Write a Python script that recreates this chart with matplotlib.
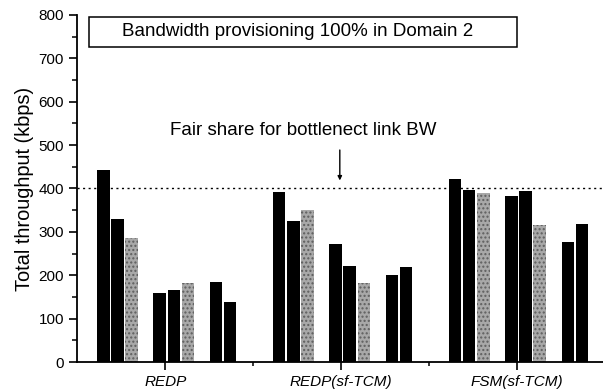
import matplotlib
matplotlib.use("Agg")
from matplotlib import pyplot as plt
from matplotlib.patches import Rectangle
from matplotlib.ticker import MultipleLocator

plt.rcParams['font.family'] = ['Liberation Sans', 'DejaVu Sans']

groups = ['REDP', 'REDP(sf-TCM)', 'FSM(sf-TCM)']
redp = [443, 329, 286, 160, 167, 182, 185, 139]
redp_sftcm = [392, 324, 350, 273, 222, 182, 200, 219]
fsm_sftcm = [421, 396, 390, 383, 395, 316, 276, 319]
# bar slot inside a group: (subgroup, index), gray = third bar of a subgroup
slots = [(0, 0), (0, 1), (0, 2), (1, 0), (1, 1), (1, 2), (2, 0), (2, 1)]
fair_share = 400

group_step = 12.5
sub_step = 4
width = 0.88

fig = plt.figure(figsize=(6.03, 3.91), dpi=100)
ax = fig.add_axes([0.128, 0.074, 0.872, 0.888])

for g, vals in enumerate([redp, redp_sftcm, fsm_sftcm]):
    for (s, k), v in zip(slots, vals):
        x = g * group_step + s * sub_step + k + 0.5
        if k == 2:
            ax.bar(x, v, width=width, color='#a8a8a8', edgecolor='#5e5e5e',
                   hatch='....', linewidth=0)
        else:
            ax.bar(x, v, width=width, color='black', linewidth=0)

ax.axhline(fair_share, color='black', linestyle=(0, (1.5, 2.5)), linewidth=1)

ax.set_xlim(-1.36, 36)
ax.set_ylim(0, 800)
ax.spines['top'].set_visible(False)
ax.spines['right'].set_visible(False)
ax.spines['left'].set_linewidth(1.3)
ax.spines['bottom'].set_linewidth(1.3)

centers = [g * group_step + 4.9 for g in range(len(groups))]
ax.set_xticks(centers)
ax.set_xticklabels(groups, fontstyle='italic', fontsize=11)
ax.set_xticks([(centers[0] + centers[1]) / 2, (centers[1] + centers[2]) / 2], minor=True)
ax.yaxis.set_major_locator(MultipleLocator(100))
ax.yaxis.set_minor_locator(MultipleLocator(50))
ax.tick_params(axis='y', labelsize=11, length=6, width=1.2)
ax.tick_params(axis='y', which='minor', length=3.5, width=1.1)
ax.tick_params(axis='x', length=6, width=1.2)
ax.tick_params(axis='x', which='minor', length=3, width=1.1)
ax.set_ylabel('Total throughput (kbps)', fontsize=14.4, labelpad=3)

ax.add_patch(Rectangle((0.023, 0.908), 0.814, 0.086, transform=ax.transAxes,
                       facecolor='white', edgecolor='black', linewidth=1.1, clip_on=False))
ax.text(0.419, 0.951, 'Bandwidth provisioning 100% in Domain 2', transform=ax.transAxes,
        ha='center', va='center', fontsize=13.5)
ax.text(0.43, 0.666, 'Fair share for bottlenect link BW', transform=ax.transAxes,
        ha='center', va='center', fontsize=13.5)
ax.annotate('', xy=(17.3, 412), xytext=(17.3, 495),
            arrowprops=dict(arrowstyle='-|>', color='black', linewidth=1,
                            mutation_scale=6))

fig.savefig('out.png', dpi=100)
